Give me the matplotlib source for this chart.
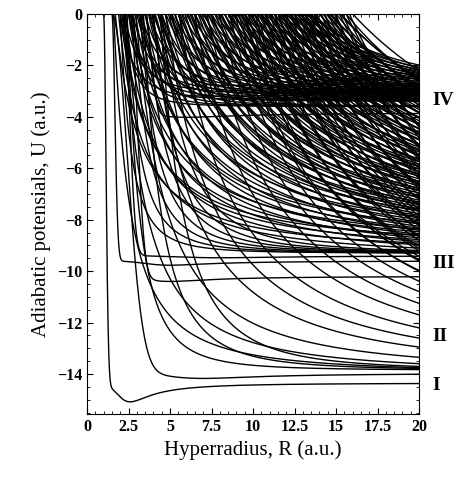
import numpy as np
import matplotlib.pyplot as plt
from matplotlib.ticker import MultipleLocator, FuncFormatter
import matplotlib.transforms as mtransforms

plt.rcParams['font.family'] = ['Liberation Serif', 'DejaVu Serif']

# curves with a potential well: U = E - D*3x^4/(1+2x^6) + wall, x = R/Rm
# wall = |E| * exp(-(R-R0)|R-R0|/s^2), so the curve leaves U = 0 near R0
well_E = [-14.35, -13.97, -10.2, -9.6, -9.4, -3.85, -3.1, -2.7]
well_D = [0.73, 0.2, 0.2, 0.17, 0.08, 0.17, 0.1, 0.08]
well_Rm = [2.6, 7.0, 5.0, 5.0, 8.0, 6.0, 8.0, 9.0]
well_R0 = [1.0, 1.5, 2.6, 1.5, 2.2, 3.5, 4.0, 5.0]
well_s = [0.2, 1.3, 0.6, 0.25, 0.5, 0.5, 0.8, 1.0]

# repulsive fans: U = E + |E| * (R0/R)^p, R0 = where each curve leaves U = 0
fan_E = [-14.0, -13.9, -13.95, -13.85, -9.4, -9.55, -9.25, -9.35, -9.3, -3.4, -3.15, -3.6]
fan_p = [1.6, 1.5, 1.55, 3.0, 1.2, 1.3, 1.15, 1.25, 3.0, 2.5, 2.5, 3.5]
fan_R0 = [
    [1.6, 2.18, 2.94, 3.96, 4.74, 5.54, 6.47, 7.23, 7.96, 8.57, 9.14, 9.7, 10.24, 10.77,
     11.28, 11.78, 12.26, 12.73, 13.2, 13.66, 14.1, 14.54, 14.96, 15.38, 15.8],
    [9.4, 9.95, 10.5, 11.0, 11.5, 12.0, 12.5, 12.95, 13.4, 13.85, 14.3, 14.75, 15.2, 15.6],
    [8.9, 9.5, 10.1, 10.7, 11.3, 11.9, 12.5, 13.1, 13.7, 14.3, 14.9],
    [2.4, 3.4, 4.4],
    [1.7, 2.1, 2.5, 2.9, 3.3, 3.7, 4.1, 4.5, 4.9, 5.3, 5.7, 6.1, 6.5, 6.9, 7.3, 7.7, 8.1,
     8.5, 8.9, 9.3, 9.7, 10.1, 10.5, 10.9, 11.3, 11.7, 12.1, 12.5, 12.9, 13.3, 13.7, 14.2,
     14.7, 15.3, 16.0],
    [1.9, 2.3, 2.7, 3.1, 3.5, 3.9, 4.3, 4.7, 5.1, 5.5, 5.9, 6.3, 6.7, 7.1, 7.5, 7.9, 8.3,
     8.7, 9.1, 9.5, 9.9, 10.3, 10.7, 11.1, 11.5, 11.9, 12.3, 12.7, 13.1, 13.5, 14.0, 14.5,
     15.0, 15.6],
    [2.0, 2.6, 3.2, 3.8, 4.4, 5.0, 5.6, 6.2, 6.8, 7.4, 8.0, 8.6, 9.2, 9.8, 10.4, 11.0,
     11.6, 12.2, 12.8, 13.4, 14.0, 14.6, 15.2],
    [5.3, 5.9, 6.5, 7.1, 7.7, 8.3, 8.9, 9.5, 10.1, 10.7, 11.3, 11.9, 12.5, 13.1, 13.7, 14.4],
    [2.0, 2.4, 2.8, 3.2, 3.6, 4.0, 4.5],
    [2.0, 2.5, 3.0, 3.5, 4.0, 4.5, 5.0, 5.5, 6.0, 6.5, 7.0, 7.5, 8.0, 8.5, 9.0, 9.5, 10.0,
     10.5, 11.0, 11.5, 12.0, 12.4, 12.8, 13.2, 13.6],
    [2.25, 2.75, 3.25, 3.75, 4.25, 4.75, 5.25, 5.75, 6.25, 6.75, 7.25, 7.75, 8.25, 8.75,
     9.25, 9.75, 10.25, 10.75, 11.25, 11.75, 12.2, 12.6, 13.0, 13.4],
    [2.2, 2.7, 3.2, 3.8, 4.4],
]

region_names = ['I', 'II', 'III', 'IV']
region_y = [-14.45, -12.55, -9.7, -3.35]

R = np.linspace(0.6, 20, 4000)

fig = plt.figure(figsize=(4.58, 4.78), dpi=100)
ax = fig.add_axes([0.19, 0.134, 0.725, 0.837])

for E, p, R0s in zip(fan_E, fan_p, fan_R0):
    for R0 in R0s:
        U = E - E * (R0 / R)**p
        ax.plot(R, U, color='black', lw=1.0)

for E, D, Rm, R0, s in zip(well_E, well_D, well_Rm, well_R0, well_s):
    x = R / Rm
    t = np.clip((R - R0) * np.abs(R - R0) / s**2, -50, 50)
    U = E - D * 3 * x**4 / (1 + 2 * x**6) - E * np.exp(-t)
    ax.plot(R, U, color='black', lw=1.0)

ax.set_xlim(0, 20)
ax.set_ylim(-15.55, 0)
ax.xaxis.set_major_locator(MultipleLocator(2.5))
ax.xaxis.set_minor_locator(MultipleLocator(0.5))
ax.yaxis.set_major_locator(MultipleLocator(2))
ax.yaxis.set_minor_locator(MultipleLocator(0.5))
ax.xaxis.set_major_formatter(FuncFormatter(lambda v, p: '%g' % v))
ax.tick_params(which='both', direction='in', top=True, right=True)
ax.tick_params(which='major', length=4, labelsize=11.5)
ax.tick_params(which='minor', length=2)
for lab in ax.get_xticklabels() + ax.get_yticklabels():
    lab.set_fontweight('bold')

ax.set_xlabel('Hyperradius, R (a.u.)', fontsize=15)
ax.set_ylabel('Adiabatic potensials, U (a.u.)', fontsize=15)

trans = mtransforms.blended_transform_factory(ax.transAxes, ax.transData)
for name, yv in zip(region_names, region_y):
    ax.text(1.04, yv, name, transform=trans, ha='left', va='center',
            fontsize=14, fontweight='bold')

fig.savefig('out.png', dpi=100)
